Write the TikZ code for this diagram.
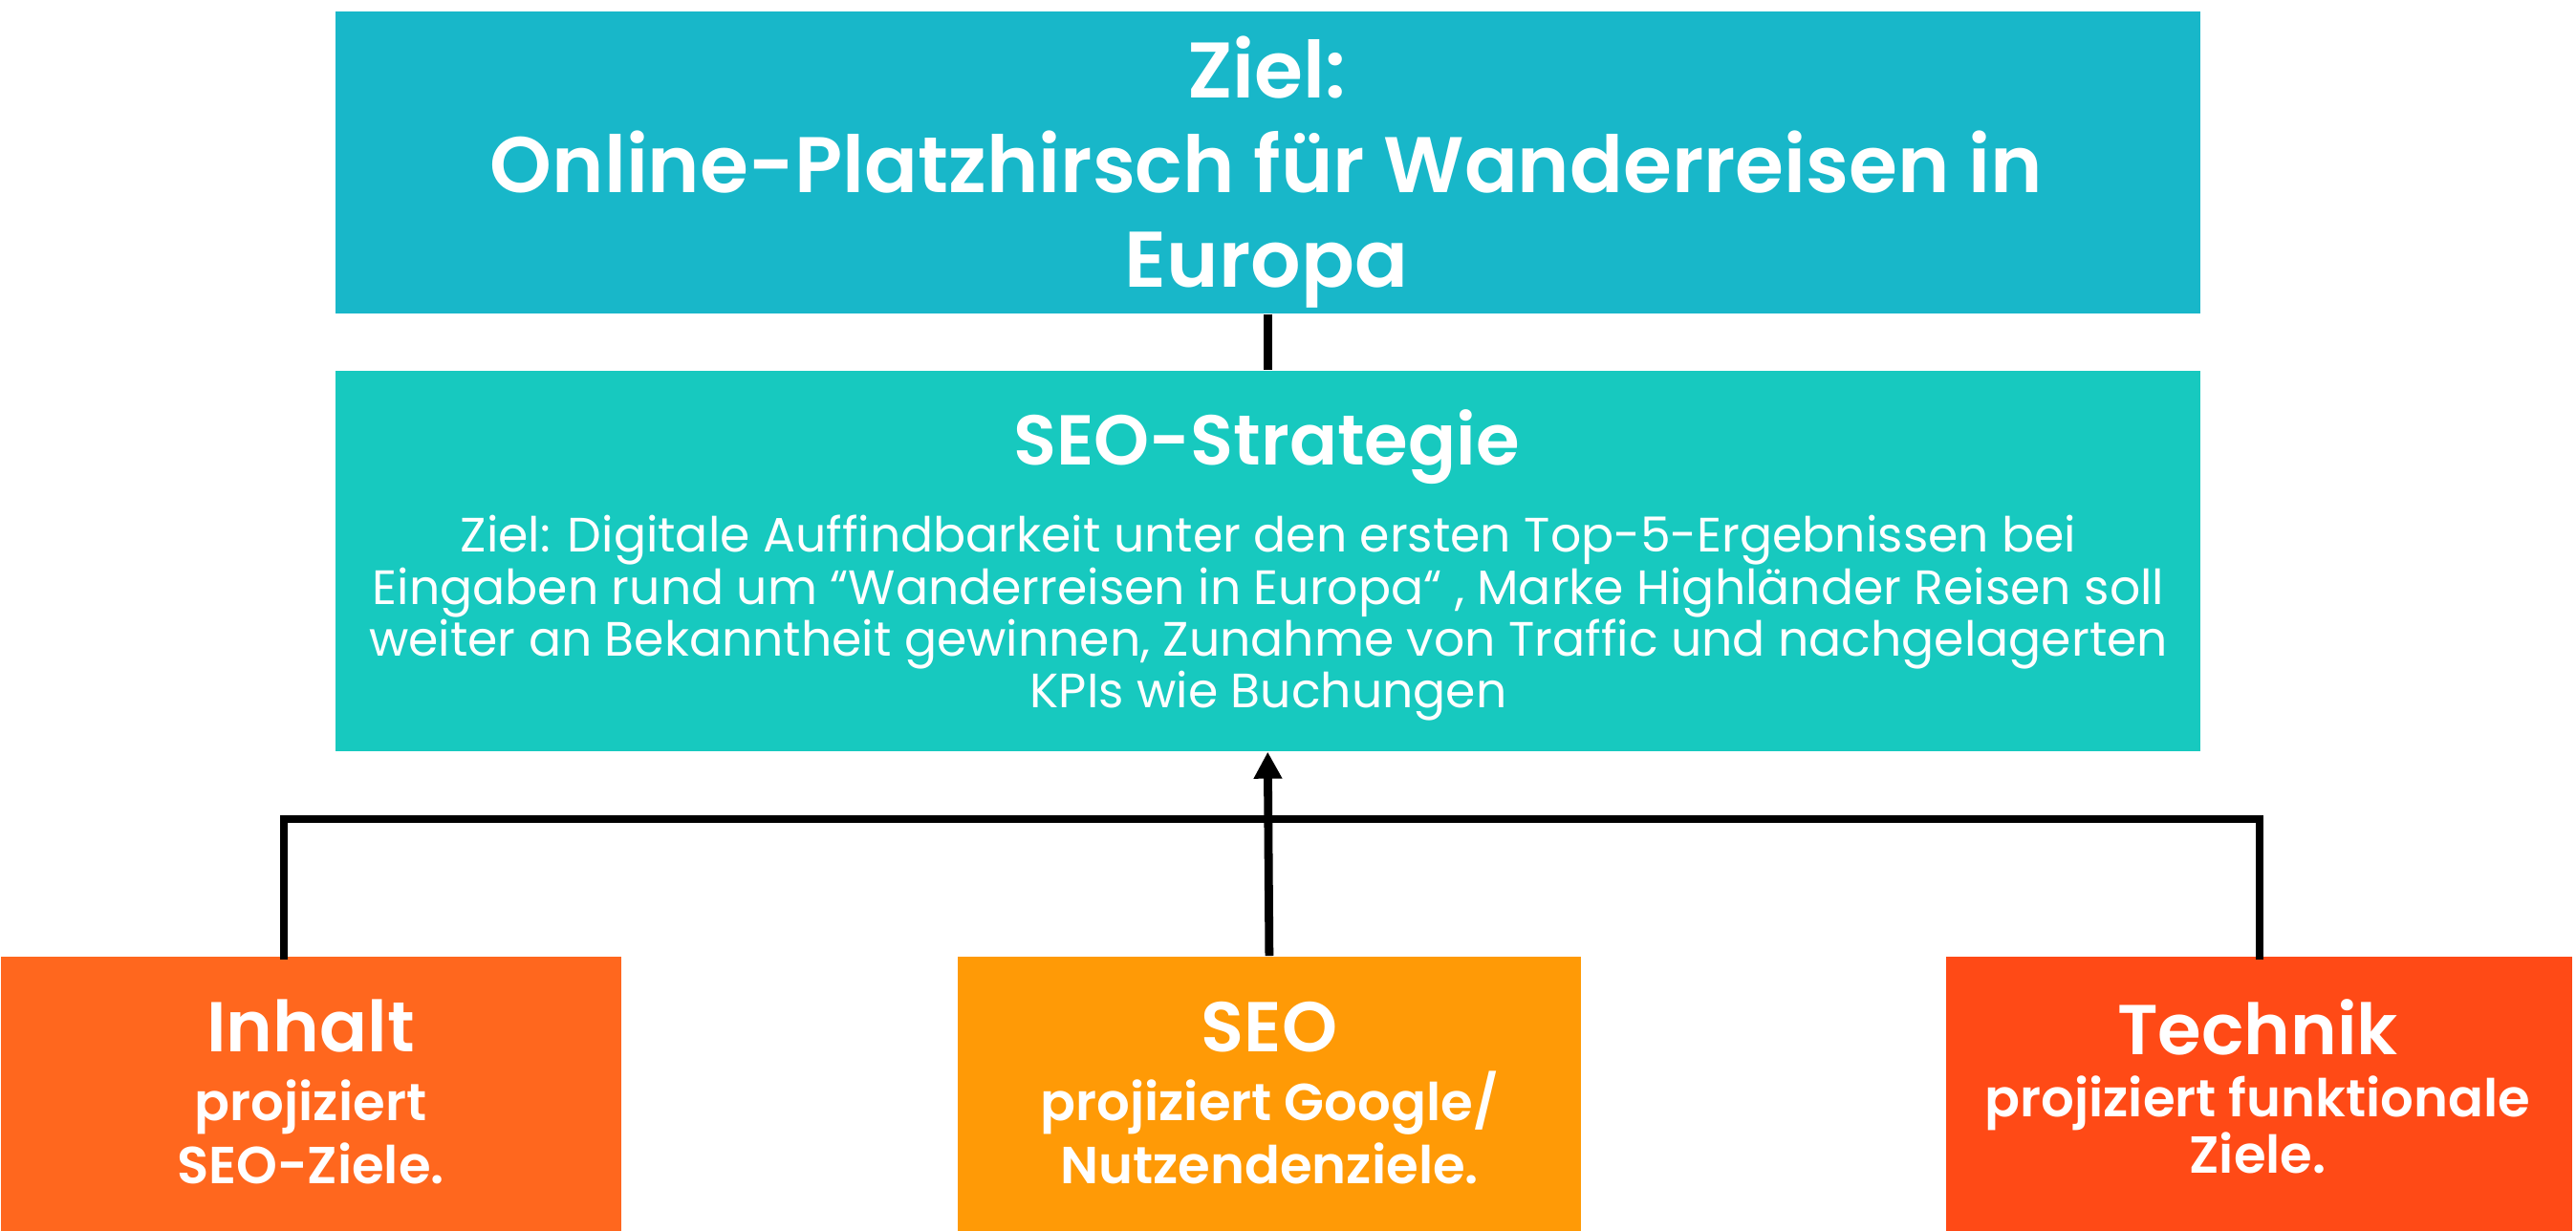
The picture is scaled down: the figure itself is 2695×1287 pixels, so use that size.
\documentclass[tikz,border=0pt]{standalone}
\usepackage{fontspec}
\setmainfont{Poppins}[BoldFont={Poppins SemiBold}]
\usetikzlibrary{arrows.meta,calc}
\definecolor{topc}{HTML}{18B7C9}
\definecolor{stratc}{HTML}{17C9BF}
\definecolor{inhc}{HTML}{FF671E}
\definecolor{seoc}{HTML}{FF9A06}
\definecolor{techc}{HTML}{FF4A16}
\tikzset{
  box/.style={draw=none, inner sep=0, anchor=north west},
  ttl/.style={text=white, inner sep=0, anchor=base, font=\bfseries\fontsize{23.45}{26}\selectfont},
  head/.style={text=white, inner sep=0, anchor=base, font=\bfseries\fontsize{21.0}{23}\selectfont},
  body/.style={text=white, inner sep=0, anchor=base, font=\fontsize{14.35}{16}\selectfont},
  subt/.style={text=white, inner sep=0, anchor=base, font=\bfseries\fontsize{15.5}{17}\selectfont},
  conn/.style={draw=black, line width=2.5pt},
}
\begin{document}
\begin{tikzpicture}[x=0.01cm,y=-0.01cm]
\useasboundingbox (0,0) rectangle (2695,1287);
% boxes
\node[box, fill=topc, minimum width=19.50cm, minimum height=3.16cm] (top) at (350,11) {};
\node[box, fill=stratc, minimum width=19.50cm, minimum height=3.98cm] (strat) at (350,387) {};
\node[box, fill=inhc, minimum width=6.49cm, minimum height=2.87cm] (inhalt) at (0,1000) {};
\node[box, fill=seoc, minimum width=6.52cm, minimum height=2.87cm] (seo) at (1001,1000) {};
\node[box, fill=techc, minimum width=6.55cm, minimum height=2.87cm] (technik) at (2035,1000) {};
% top text
\node[ttl] (t1) at (1325,102) {Ziel:};
\node[ttl] (t2) at (1325,201) {Online-Platzhirsch für Wanderreisen in};
\node[ttl] (t3) at (1325,300) {Europa};
% strategy text
\node[head] (s0) at (1325,486) {SEO-Strategie};
\node[body] (s1) at (1327,577) {Ziel: Digitale Auffindbarkeit unter den ersten Top-5-Ergebnissen bei};
\node[body] (s2) at (1327,632) {Eingaben rund um “Wanderreisen in Europa“ , Marke Highländer Reisen soll};
\node[body] (s3) at (1327,686) {weiter an Bekanntheit gewinnen, Zunahme von Traffic und nachgelagerten};
\node[body] (s4) at (1327,740) {KPIs wie Buchungen};
% bottom texts
\node[head] (i0) at (325,1100) {Inhalt};
\node[subt] (i1) at (325,1172) {projiziert};
\node[subt] (i2) at (325,1238) {SEO-Ziele.};
\node[head] (o0) at (1328,1100) {SEO};
\node[subt] (o1) at (1328,1172) {projiziert Google/};
\node[subt] (o2) at (1328,1238) {Nutzendenziele.};
\node[head] (k0) at (2362,1103) {Technik};
\node[subt] (k1) at (2362,1168) {projiziert funktionale};
\node[subt] (k2) at (2362,1227) {Ziele.};
% connectors
\coordinate (j1) at (297,857);
\coordinate (j2) at (2364,857);
\draw[conn] (top.south) -- (strat.north);
\draw[conn, line cap=rect] (inhalt.north -| j1) -- (j1) -- (j2) -- (technik.north -| j2);
\draw[conn, -{Triangle[width=0.28cm,length=0.28cm]}] (seo.north) -- (strat.south);
\end{tikzpicture}
\end{document}
